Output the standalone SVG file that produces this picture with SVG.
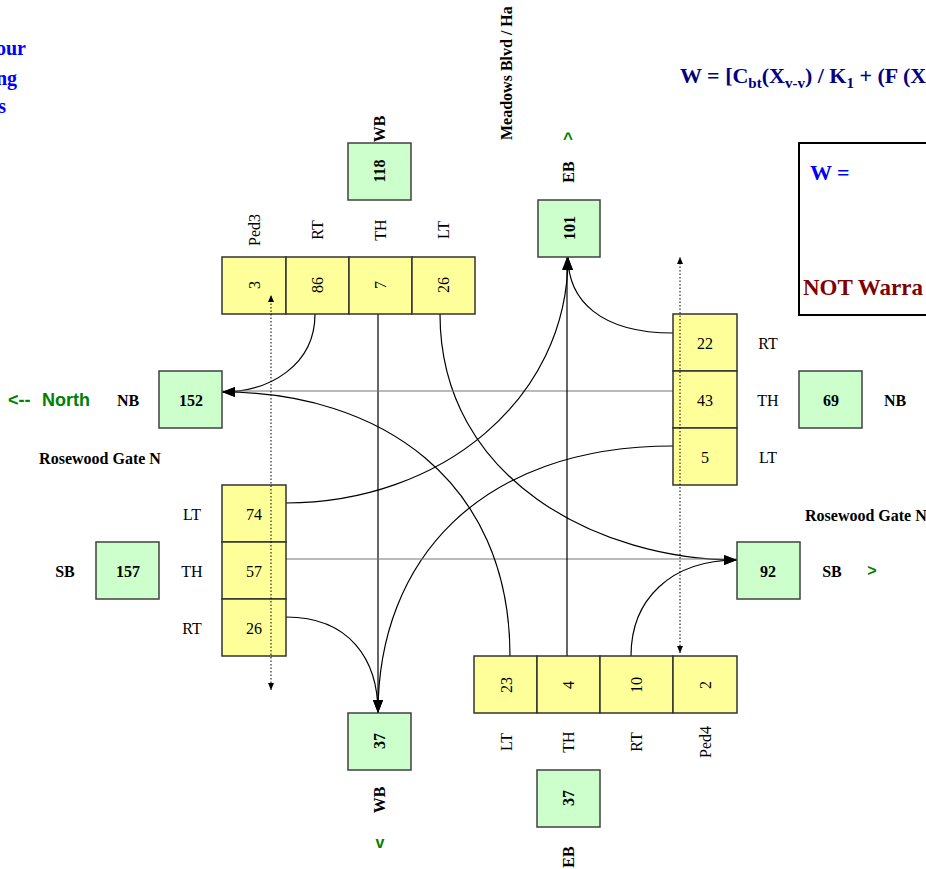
<svg xmlns="http://www.w3.org/2000/svg" width="926" height="869" viewBox="0 0 926 869">
<style>
.y{fill:#FFFF99;stroke:#333;stroke-width:1.5}
.g{fill:#CCFFCC;stroke:#404040;stroke-width:1.5}
.t{font-family:"Liberation Serif","Times New Roman",serif;font-size:16px;fill:#000}
.b{font-family:"Liberation Serif","Times New Roman",serif;font-size:16px;font-weight:bold;fill:#000}
.c{text-anchor:middle;dominant-baseline:central}
.gr{font-family:"Liberation Sans",Arial,sans-serif;font-weight:bold;fill:#008000}
.con{fill:none;stroke:#000;stroke-width:1.2}
.hl{fill:none;stroke:#777;stroke-width:1.2}
.dot{fill:none;stroke:#000;stroke-width:1;stroke-dasharray:1.5,2}
</style>
<defs>
<marker id="ah" markerUnits="userSpaceOnUse" markerWidth="14" markerHeight="10" refX="13" refY="5" orient="auto">
<path d="M0,0 L13,5 L0,10 Z" fill="#000"/>
</marker>
<marker id="sa" markerUnits="userSpaceOnUse" markerWidth="8" markerHeight="6" refX="7" refY="3" orient="auto">
<path d="M0,0 L7,3 L0,6 Z" fill="#000"/>
</marker>
<marker id="sas" markerUnits="userSpaceOnUse" markerWidth="8" markerHeight="6" refX="1" refY="3" orient="auto">
<path d="M8,0 L1,3 L8,6 Z" fill="#000"/>
</marker>
</defs>

<g id="title">
<text class="b" x="26" y="55" text-anchor="end" style="font-size:20px;fill:#0000FF">our</text>
<text class="b" x="17" y="85" text-anchor="end" style="font-size:20px;fill:#0000FF">ng</text>
<text class="b" x="6" y="113" text-anchor="end" style="font-size:20px;fill:#0000FF">s</text>
</g>

<g id="formula">
<text class="b" x="680" y="83" style="font-size:22px;fill:#000080">W = [C<tspan dy="5" font-size="15">bt</tspan><tspan dy="-5">(X</tspan><tspan dy="5" font-size="15">v-v</tspan><tspan dy="-5">) / K</tspan><tspan dy="5" font-size="15">1</tspan><tspan dy="-5"> + (F (X</tspan></text>
</g>

<g id="result-box">
<rect x="799" y="143" width="140" height="172" fill="#fff" stroke="#000" stroke-width="2"/>
<text class="b" x="810" y="180" style="font-size:22px;fill:#0000FF">W =</text>
<text class="b" x="803" y="295" style="font-size:23px;fill:#800000">NOT Warra</text>
</g>

<g id="street-labels">
<text class="b" transform="translate(512,140) rotate(-90)" style="font-size:16px">Meadows Blvd / Ha</text>
<text class="b" x="100" y="458" text-anchor="middle" dominant-baseline="central">Rosewood Gate N</text>
<text class="b" x="805" y="515" dominant-baseline="central">Rosewood Gate N</text>
<text class="gr" x="8" y="400" dominant-baseline="central" style="font-size:18px">&lt;--<tspan x="42">North</tspan></text>
</g>

<g id="connectors">
<path class="con" d="M315,314 C315,365 270,392 222,392" marker-end="url(#ah)"/>
<path class="con" d="M378,314 L378,713" marker-end="url(#ah)"/>
<path class="con" d="M440,314 C440,480 600,560 737,560" marker-end="url(#ah)"/>
<path class="con" d="M673,333 C600,333 568,300 568,257" marker-end="url(#ah)"/>
<path class="hl" d="M673,391 L222,391"/>
<path class="con" d="M673,446 C480,446 378,560 378,713" marker-end="url(#ah)"/>
<path class="con" d="M286,503 C440,503 568,400 568,257" marker-end="url(#ah)"/>
<path class="hl" d="M286,559 L737,559"/>
<path class="con" d="M286,617 C350,617 378,660 378,713" marker-end="url(#ah)"/>
<path class="con" d="M510,656 C510,480 380,392 222,392" marker-end="url(#ah)"/>
<path class="con" d="M567,656 L567,257" marker-end="url(#ah)"/>
<path class="con" d="M631,656 C631,600 670,560 737,560" marker-end="url(#ah)"/>
</g>

<g id="wb-approach">
<rect class="y" x="222" y="257" width="64" height="57"/>
<rect class="y" x="286" y="257" width="63" height="57"/>
<rect class="y" x="349" y="257" width="63" height="57"/>
<rect class="y" x="412" y="257" width="63" height="57"/>
<text class="t c" transform="translate(254,285) rotate(-90)">3</text>
<text class="t c" transform="translate(317,285) rotate(-90)">86</text>
<text class="t c" transform="translate(380,285) rotate(-90)">7</text>
<text class="t c" transform="translate(443,285) rotate(-90)">26</text>
<text class="t c" transform="translate(254,230) rotate(-90)">Ped3</text>
<text class="t c" transform="translate(317,230) rotate(-90)">RT</text>
<text class="t c" transform="translate(380,230) rotate(-90)">TH</text>
<text class="t c" transform="translate(443,230) rotate(-90)">LT</text>
</g>

<g id="wb-in">
<rect class="g" x="348" y="143" width="63" height="57"/>
<text class="b c" transform="translate(379,171) rotate(-90)">118</text>
<text class="b c" transform="translate(379,129) rotate(-90)">WB</text>
</g>

<g id="eb-out">
<rect class="g" x="538" y="200" width="62" height="57"/>
<text class="b c" transform="translate(569,228) rotate(-90)">101</text>
<text class="b c" transform="translate(568,172) rotate(-90)">EB</text>
<text class="gr" x="568" y="138" text-anchor="middle" dominant-baseline="central" style="font-size:17px">^</text>
</g>

<g id="nb-approach">
<rect class="y" x="673" y="314" width="64" height="57"/>
<rect class="y" x="673" y="371" width="64" height="57"/>
<rect class="y" x="673" y="428" width="64" height="57"/>
<text class="t c" x="705" y="343">22</text>
<text class="t c" x="705" y="400">43</text>
<text class="t c" x="705" y="457">5</text>
<text class="t c" x="768" y="343">RT</text>
<text class="t c" x="768" y="400">TH</text>
<text class="t c" x="768" y="457">LT</text>
</g>

<g id="nb-in">
<rect class="g" x="799" y="371" width="63" height="57"/>
<text class="b c" x="831" y="400">69</text>
<text class="b c" x="895" y="400">NB</text>
</g>

<g id="nb-out">
<rect class="g" x="159" y="371" width="63" height="57"/>
<text class="b c" x="191" y="400">152</text>
<text class="b c" x="128" y="400">NB</text>
</g>

<g id="sb-approach">
<rect class="y" x="222" y="485" width="64" height="57"/>
<rect class="y" x="222" y="542" width="64" height="57"/>
<rect class="y" x="222" y="599" width="64" height="57"/>
<text class="t c" x="254" y="514">74</text>
<text class="t c" x="254" y="571">57</text>
<text class="t c" x="254" y="628">26</text>
<text class="t c" x="192" y="514">LT</text>
<text class="t c" x="192" y="571">TH</text>
<text class="t c" x="192" y="628">RT</text>
</g>

<g id="sb-in">
<rect class="g" x="96" y="542" width="63" height="57"/>
<text class="b c" x="128" y="571">157</text>
<text class="b c" x="65" y="571">SB</text>
</g>

<g id="sb-out">
<rect class="g" x="737" y="542" width="63" height="57"/>
<text class="b c" x="768" y="571">92</text>
<text class="b c" x="832" y="571">SB</text>
<text class="gr" x="872" y="570" text-anchor="middle" dominant-baseline="central" style="font-size:16px">&gt;</text>
</g>

<g id="eb-approach">
<rect class="y" x="474" y="656" width="63" height="57"/>
<rect class="y" x="537" y="656" width="63" height="57"/>
<rect class="y" x="600" y="656" width="73" height="57"/>
<rect class="y" x="673" y="656" width="64" height="57"/>
<text class="t c" transform="translate(506,685) rotate(-90)">23</text>
<text class="t c" transform="translate(568,685) rotate(-90)">4</text>
<text class="t c" transform="translate(636,685) rotate(-90)">10</text>
<text class="t c" transform="translate(705,685) rotate(-90)">2</text>
<text class="t c" transform="translate(506,742) rotate(-90)">LT</text>
<text class="t c" transform="translate(568,742) rotate(-90)">TH</text>
<text class="t c" transform="translate(636,742) rotate(-90)">RT</text>
<text class="t c" transform="translate(705,742) rotate(-90)">Ped4</text>
</g>

<g id="eb-in">
<rect class="g" x="537" y="770" width="63" height="57"/>
<text class="b c" transform="translate(568,798) rotate(-90)">37</text>
<text class="b c" transform="translate(568,857) rotate(-90)">EB</text>
</g>

<g id="wb-out">
<rect class="g" x="348" y="713" width="63" height="57"/>
<text class="b c" transform="translate(379,741) rotate(-90)">37</text>
<text class="b c" transform="translate(379,800) rotate(-90)">WB</text>
<text class="gr" x="380" y="842" text-anchor="middle" dominant-baseline="central" style="font-size:16px">v</text>
</g>

<g id="ped-crossings">
<path class="dot" d="M271,690 L271,295" marker-start="url(#sas)" marker-end="url(#sa)"/>
<path class="dot" d="M680,653 L680,257" marker-start="url(#sas)" marker-end="url(#sa)"/>
</g>
</svg>
